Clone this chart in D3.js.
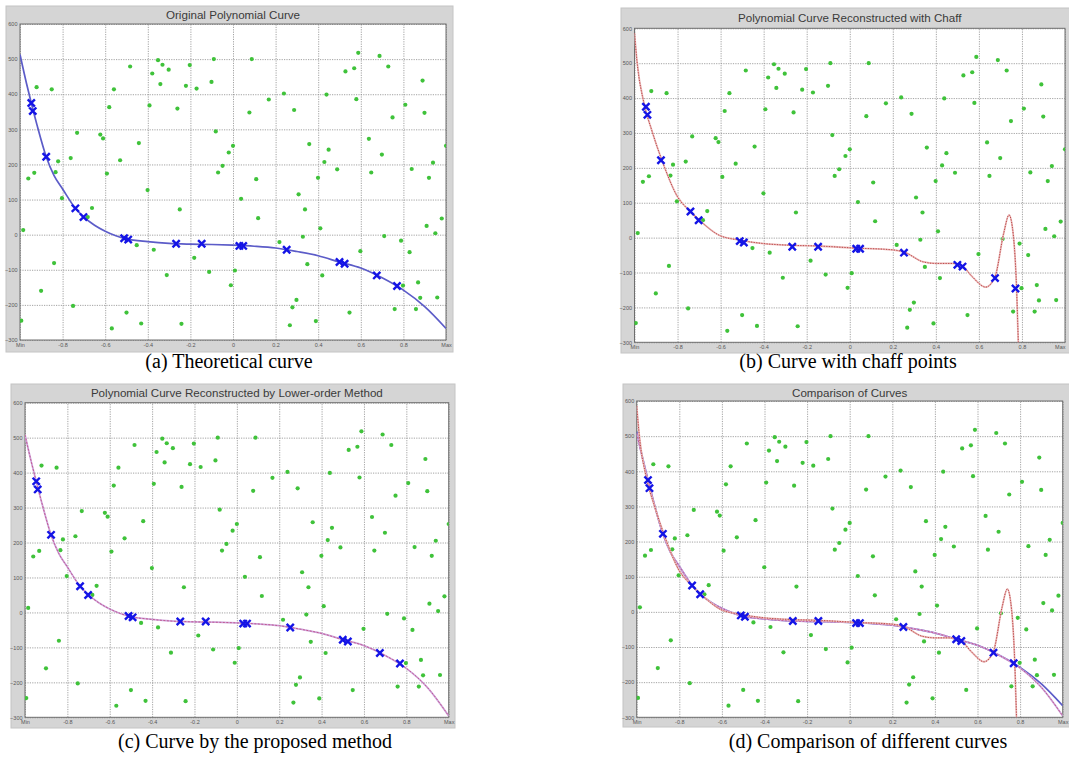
<!DOCTYPE html>
<html><head><meta charset="utf-8">
<script src="https://cdn.jsdelivr.net/npm/d3@7"></script>
<style>body{margin:0;background:#fff;} svg{display:block}</style>
</head><body><svg id="c" width="1069" height="758"></svg>
<script>
// ---------- data ----------
const xTickValues = [-1,-0.8,-0.6,-0.4,-0.2,0,0.2,0.4,0.6,0.8,1];
const xTickLabels = ["Min","-0.8","-0.6","-0.4","-0.2","0","0.2","0.4","0.6","0.8","Max"];
const yTickValues = [600,500,400,300,200,100,0,-100,-200,-300];

const chaffX = [-0.985,-0.994,-0.961,-0.933,-0.922,-0.901,-0.851,-0.840,-0.833,-0.821,-0.803,-0.762,-0.751,-0.732,-0.682,-0.662,-0.623,-0.610,-0.592,-0.581,-0.569,-0.559,-0.530,-0.500,-0.483,-0.452,-0.442,-0.431,-0.401,-0.392,-0.379,-0.372,-0.352,-0.341,-0.331,-0.311,-0.302,-0.261,-0.250,-0.242,-0.221,-0.203,-0.182,-0.171,-0.112,-0.101,-0.090,-0.081,-0.070,-0.049,-0.020,-0.010,0.000,0.009,0.038,0.077,0.088,0.109,0.118,0.168,0.218,0.239,0.267,0.279,0.287,0.298,0.308,0.328,0.338,0.349,0.358,0.389,0.399,0.410,0.419,0.429,0.439,0.449,0.489,0.528,0.547,0.569,0.579,0.588,0.598,0.638,0.649,0.688,0.699,0.710,0.729,0.749,0.759,0.789,0.798,0.809,0.829,0.839,0.859,0.869,0.879,0.890,0.899,0.909,0.920,0.939,0.950,0.959,0.980,1.000];
const chaffY = [13,-245,160,176,420,-160,414,-81,178,209,104,218,-203,290,50,76,285,274,174,363,-267,414,212,-222,479,-30,261,-253,127,368,459,-43,497,429,484,-115,470,359,72,-254,424,483,-66,416,-106,435,500,294,177,196,234,-144,253,-102,102,348,500,158,47,385,-21,402,-258,-207,355,-186,115,-6,72,-84,258,-246,162,18,-116,207,399,242,186,465,-222,474,386,518,-47,273,177,509,228,-4,479,334,-212,-17,-145,370,-50,187,-212,-136,-180,439,347,25,162,205,4,-179,46,253];

const genuineX = [-0.947,-0.940,-0.877,-0.740,-0.702,-0.511,-0.492,-0.267,-0.147,0.030,0.048,0.252,0.500,0.524,0.675,0.770];
const genuineY = [375,352,222,75,50,-10,-14,-26,-26,-32,-32,-43,-78,-83,-116,-146];

// theoretical (original) curve
const theoCurveX = [-1,-0.97,-0.947,-0.92,-0.877,-0.84,-0.8,-0.74,-0.7,-0.65,-0.6,-0.55,-0.5,-0.4,-0.3,-0.2,-0.1,0,0.1,0.2,0.3,0.4,0.5,0.6,0.7,0.8,0.9,1];
const theoCurveY = [513,432,375,312,222,168,130,75,50,27,10,-3,-12,-20,-25,-27,-28,-30,-33,-38,-48,-60,-78,-95,-123,-158,-205,-267];

// curve reconstructed with chaff
const chaffCurveX = [-1,-0.989,-0.954,-0.92,-0.871,-0.8,-0.743,-0.7,-0.604,-0.512,-0.4,-0.27,-0.148,0.029,0.199,0.256,0.338,0.399,0.476,0.52,0.569,0.631,0.674,0.715,0.740,0.755,0.775,0.785];
const chaffCurveY = [586,509,380,308,219,117,76,51,6,-7,-17,-22,-24,-30,-35,-42,-69,-74,-74,-80,-112,-142,-114,12,65,32,-145,-340];

// curve reconstructed by the lower-order (proposed) method
const propCurveX = [-1,-0.97,-0.947,-0.92,-0.877,-0.84,-0.8,-0.74,-0.7,-0.65,-0.6,-0.55,-0.5,-0.4,-0.3,-0.2,-0.1,0,0.1,0.2,0.3,0.4,0.5,0.6,0.7,0.8,0.9,1];
const propCurveY = [508,430,375,312,222,168,130,75,50,27,10,-3,-12,-20,-25,-27,-28,-30,-33,-38,-48,-60,-78,-95,-123,-160,-215,-296];

const panelTitles = ["Original Polynomial Curve","Polynomial Curve Reconstructed with Chaff","Polynomial Curve Reconstructed by Lower-order Method","Comparison of Curves"];
const panelCaptions = ["(a) Theoretical curve","(b) Curve with chaff points","(c) Curve by the proposed method","(d) Comparison of different curves"];

// ---------- layout ----------
const layout = [
  {frame:[6,6,453,352],   plot:[20,24,446,340],      cap:[229,368], curves:["theo"]},
  {frame:[621,8,1080,353], plot:[634.5,28.3,1065,342.3], cap:[848,368], curves:["chaff"]},
  {frame:[11,384,455,728], plot:[25,402.7,448.7,717.3], cap:[255,748], curves:["prop"]},
  {frame:[623,384,1080,727], plot:[636.7,401,1062.7,717.3], cap:[868,748], curves:["theo","prop","chaff"]}
];

const curveData = {
  theo: theoCurveX.map((x,i)=>[x,theoCurveY[i]]),
  chaff: chaffCurveX.map((x,i)=>[x,chaffCurveY[i]]),
  prop: propCurveX.map((x,i)=>[x,propCurveY[i]])
};
const chaffPts = chaffX.map((x,i)=>[x,chaffY[i]]);
const genPts = genuineX.map((x,i)=>[x,genuineY[i]]);

const svg = d3.select("#c");
const defs = svg.append("defs");
const W = 1069;

layout.forEach((L,pi)=>{
  const [fx0,fy0,fx1,fy1] = L.frame;
  const [px0,py0,px1,py1] = L.plot;
  const g = svg.append("g");
  g.append("rect").attr("x",fx0).attr("y",fy0).attr("width",fx1-fx0).attr("height",fy1-fy0)
    .attr("fill","#d5d5d5").attr("stroke","#c4c4c4");
  g.append("rect").attr("x",px0).attr("y",py0).attr("width",px1-px0).attr("height",py1-py0)
    .attr("fill","#fff");

  const x = d3.scaleLinear().domain([-1,1]).range([px0,px1]);
  const y = d3.scaleLinear().domain([-300,600]).range([py1,py0]);

  // grid
  const gx = g.append("g").attr("transform",`translate(0,${py1})`)
    .call(d3.axisBottom(x).tickValues(xTickValues).tickSize(-(py1-py0)).tickFormat(""));
  gx.select(".domain").remove();
  gx.selectAll("line").attr("stroke","#8c8c8c").attr("stroke-width",0.8).attr("stroke-dasharray","1.2,1.2");
  const gy = g.append("g").attr("transform",`translate(${px0},0)`)
    .call(d3.axisLeft(y).tickValues(yTickValues).tickSize(-(px1-px0)).tickFormat(""));
  gy.select(".domain").remove();
  gy.selectAll("line").attr("stroke","#8c8c8c").attr("stroke-width",0.8).attr("stroke-dasharray","1.2,1.2");

  // border
  g.append("rect").attr("x",px0).attr("y",py0).attr("width",px1-px0).attr("height",py1-py0)
    .attr("fill","none").attr("stroke","#6e6e6e").attr("stroke-width",1);

  // tick labels
  const ax = g.append("g").attr("transform",`translate(0,${py1})`)
    .call(d3.axisBottom(x).tickValues(xTickValues).tickSize(0).tickPadding(3).tickFormat((d,i)=>xTickLabels[i]));
  ax.select(".domain").remove();
  ax.selectAll("text").attr("font-family","Arial, Liberation Sans, sans-serif").attr("font-size",5.5).attr("fill","#555")
    .attr("text-anchor",d=>(d===1 && x(1)+6>W) ? "end" : "middle");
  const ay = g.append("g").attr("transform",`translate(${px0},0)`)
    .call(d3.axisLeft(y).tickValues(yTickValues).tickSize(0).tickPadding(2.5).tickFormat(d3.format("d")));
  ay.select(".domain").remove();
  ay.selectAll("text").attr("font-family","Arial, Liberation Sans, sans-serif").attr("font-size",5.5).attr("fill","#555");

  // title
  g.append("text").attr("x",(px0+px1)/2).attr("y",(fy0+py0)/2+4)
    .attr("text-anchor","middle").attr("font-family","Arial, Liberation Sans, sans-serif")
    .attr("font-size",11.6).attr("fill","#3a3a3a").text(panelTitles[pi]);

  // clip
  const cid = "clip"+pi;
  defs.append("clipPath").attr("id",cid).append("rect")
    .attr("x",px0).attr("y",py0).attr("width",px1-px0).attr("height",py1-py0);
  const inner = g.append("g").attr("clip-path",`url(#${cid})`);

  // chaff points
  inner.selectAll("circle.chaff").data(chaffPts).join("circle").attr("class","chaff")
    .attr("cx",d=>x(d[0])).attr("cy",d=>y(d[1])).attr("r",2.1).attr("fill","#3fc23a");

  const line = d3.line().x(d=>x(d[0])).y(d=>y(d[1])).curve(d3.curveMonotoneX);
  L.curves.forEach(c=>{
    if(c==="theo"){
      inner.append("path").attr("d",line(curveData.theo)).attr("fill","none")
        .attr("stroke","#5c5cc8").attr("stroke-width",1.7);
    } else if(c==="prop"){
      inner.append("path").attr("d",line(curveData.prop)).attr("fill","none")
        .attr("stroke","#cfa6dc").attr("stroke-width",1.8);
      inner.append("path").attr("d",line(curveData.prop)).attr("fill","none")
        .attr("stroke","#c0508a").attr("stroke-width",0.9).attr("stroke-dasharray","2,1.5");
    } else if(c==="chaff"){
      inner.append("path").attr("d",line(curveData.chaff)).attr("fill","none")
        .attr("stroke","#eab8b8").attr("stroke-width",1.8);
      inner.append("path").attr("d",line(curveData.chaff)).attr("fill","none")
        .attr("stroke","#b83c3c").attr("stroke-width",0.9).attr("stroke-dasharray","1.3,1.3");
    }
  });

  // genuine points (x markers)
  const s = 3.6;
  inner.selectAll("path.gen").data(genPts).join("path").attr("class","gen")
    .attr("d",d=>{const cx=x(d[0]),cy=y(d[1]);return `M${cx-s},${cy-s}L${cx+s},${cy+s}M${cx-s},${cy+s}L${cx+s},${cy-s}`;})
    .attr("stroke","#1414e6").attr("stroke-width",2.4).attr("fill","none");

  // caption
  svg.append("text").attr("x",L.cap[0]).attr("y",L.cap[1]).attr("text-anchor","middle")
    .attr("font-family","Liberation Serif, Times New Roman, serif").attr("font-size",20)
    .attr("fill","#000").text(panelCaptions[pi]);
});
</script></body></html>
